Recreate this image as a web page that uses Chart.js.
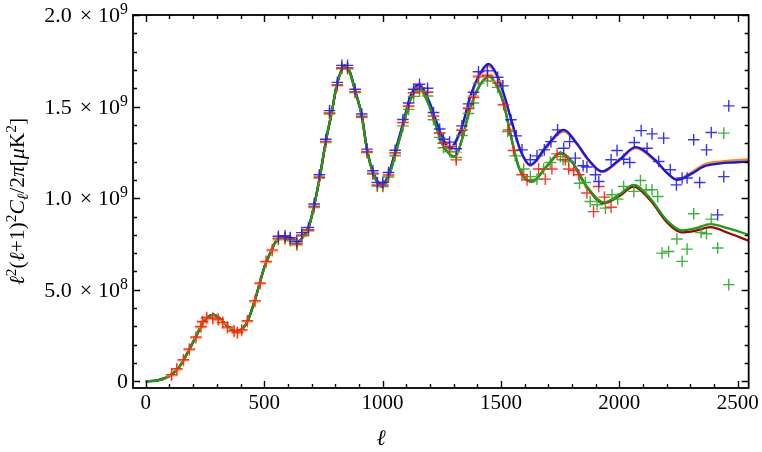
<!DOCTYPE html>
<html><head><meta charset="utf-8">
<script src="https://cdn.jsdelivr.net/npm/chart.js@4/dist/chart.umd.min.js"></script>
<style>html,body{margin:0;padding:0;background:#fff}#wrap{width:762px;height:452px}</style>
</head><body><div id="wrap"><canvas id="c" width="762" height="452"></canvas></div>
<script>
// ---- data (y in units of 10^9 μK^2, x = multipole ℓ) ----
const xTickVals = [0, 500, 1000, 1500, 2000, 2500];
const yTickVals = [0, 0.5, 1.0, 1.5, 2.0];
const yTickMant = ['0', '5.0', '1.0', '1.5', '2.0'];
const yTickExp  = ['', '8', '9', '9', '9'];

const blueCurve = [[0,0],[50,0.006],[100,0.03],[131,0.063],[150,0.095],[184,0.175],[212,0.245],[240,0.318],[262,0.352],[285,0.365],[310,0.347],[345,0.302],[384,0.272],[410,0.29],[430,0.33],[460,0.44],[500,0.62],[532,0.72],[550,0.765],[570,0.785],[610,0.785],[640,0.762],[665,0.79],[690,0.85],[711,0.96],[736,1.124],[761,1.315],[786,1.473],[807,1.62],[840,1.725],[862,1.69],[884,1.59],[912,1.455],[934,1.27],[959,1.146],[997,1.073],[1025,1.13],[1053,1.255],[1088,1.418],[1117,1.555],[1152,1.62],[1194,1.537],[1222,1.437],[1251,1.337],[1283,1.273],[1335,1.391],[1370,1.555],[1412,1.682],[1448,1.733],[1480,1.68],[1511,1.573],[1546,1.418],[1580,1.27],[1624,1.182],[1690,1.28],[1765,1.373],[1820,1.30],[1870,1.21],[1927,1.146],[2000,1.21],[2068,1.279],[2150,1.21],[2200,1.14],[2244,1.10],[2300,1.13],[2360,1.175],[2427,1.19],[2480,1.195],[2550,1.20]];
const orangeCurve = [[0,0],[50,0.006],[100,0.03],[131,0.063],[150,0.095],[184,0.175],[212,0.245],[240,0.318],[262,0.352],[285,0.365],[310,0.347],[345,0.302],[384,0.272],[410,0.29],[430,0.33],[460,0.44],[500,0.62],[532,0.72],[550,0.765],[570,0.785],[610,0.785],[640,0.762],[665,0.79],[690,0.85],[711,0.96],[736,1.124],[761,1.315],[786,1.473],[807,1.62],[840,1.722],[862,1.688],[884,1.588],[912,1.453],[934,1.268],[959,1.144],[997,1.07],[1025,1.127],[1053,1.25],[1088,1.412],[1117,1.548],[1152,1.613],[1194,1.53],[1222,1.43],[1251,1.33],[1283,1.267],[1335,1.383],[1370,1.546],[1412,1.672],[1448,1.722],[1480,1.672],[1511,1.566],[1546,1.41],[1580,1.264],[1624,1.177],[1690,1.272],[1765,1.364],[1820,1.294],[1870,1.204],[1927,1.142],[2000,1.205],[2068,1.273],[2150,1.205],[2200,1.14],[2244,1.104],[2300,1.138],[2360,1.185],[2427,1.2],[2480,1.206],[2550,1.213]];
const greenCurve = [[0,0],[50,0.006],[100,0.03],[131,0.063],[150,0.095],[184,0.175],[212,0.245],[240,0.318],[262,0.352],[285,0.365],[310,0.347],[345,0.302],[384,0.272],[410,0.29],[430,0.33],[460,0.44],[500,0.62],[532,0.72],[550,0.765],[570,0.785],[610,0.785],[640,0.762],[665,0.79],[690,0.85],[711,0.96],[736,1.124],[761,1.315],[786,1.473],[807,1.62],[840,1.72],[862,1.685],[884,1.585],[912,1.45],[934,1.265],[959,1.14],[997,1.062],[1025,1.115],[1053,1.235],[1088,1.40],[1117,1.535],[1155,1.60],[1194,1.515],[1222,1.41],[1251,1.30],[1283,1.24],[1307,1.227],[1335,1.32],[1370,1.49],[1412,1.62],[1450,1.664],[1480,1.62],[1511,1.519],[1540,1.35],[1574,1.173],[1600,1.11],[1631,1.091],[1690,1.17],[1751,1.249],[1800,1.2],[1860,1.07],[1934,0.977],[2000,1.02],[2060,1.073],[2130,1.0],[2200,0.88],[2265,0.824],[2320,0.835],[2385,0.859],[2460,0.835],[2554,0.797]];
const redCurve = [[0,0],[50,0.006],[100,0.03],[131,0.063],[150,0.095],[184,0.175],[212,0.245],[240,0.318],[262,0.352],[285,0.365],[310,0.347],[345,0.302],[384,0.272],[410,0.29],[430,0.33],[460,0.44],[500,0.62],[532,0.72],[550,0.765],[570,0.785],[610,0.785],[640,0.762],[665,0.79],[690,0.85],[711,0.96],[736,1.124],[761,1.315],[786,1.473],[807,1.62],[840,1.72],[862,1.685],[884,1.585],[912,1.45],[934,1.265],[959,1.14],[997,1.062],[1025,1.115],[1053,1.235],[1088,1.40],[1117,1.535],[1155,1.60],[1194,1.515],[1222,1.41],[1251,1.30],[1283,1.24],[1307,1.227],[1335,1.32],[1370,1.49],[1412,1.62],[1450,1.664],[1480,1.62],[1511,1.519],[1540,1.35],[1574,1.173],[1600,1.11],[1631,1.09],[1690,1.168],[1751,1.245],[1800,1.196],[1860,1.066],[1934,0.972],[2000,1.012],[2060,1.064],[2130,0.99],[2200,0.87],[2265,0.814],[2320,0.822],[2385,0.842],[2460,0.81],[2554,0.764]];

const bluePoints = [[560,0.792],[588,0.795],[610,0.785],[638,0.762],[659,0.812],[687,0.840],[711,0.968],[733,1.128],[760,1.322],[776,1.478],[809,1.632],[828,1.725],[852,1.725],[884,1.595],[912,1.46],[934,1.268],[959,1.15],[978,1.086],[1001,1.086],[1025,1.14],[1053,1.262],[1086,1.43],[1110,1.52],[1131,1.595],[1156,1.622],[1190,1.600],[1215,1.468],[1241,1.378],[1257,1.322],[1283,1.306],[1311,1.27],[1335,1.395],[1363,1.515],[1384,1.578],[1405,1.69],[1443,1.695],[1486,1.66],[1508,1.613],[1542,1.428],[1565,1.34],[1589,1.264],[1624,1.21],[1652,1.231],[1683,1.264],[1711,1.309],[1739,1.373],[1765,1.273],[1790,1.309],[1814,1.219],[1847,1.177],[1863,1.17],[1899,1.128],[1913,1.091],[1965,1.21],[1990,1.26],[2018,1.213],[2044,1.195],[2063,1.304],[2092,1.369],[2117,1.273],[2138,1.351],[2166,1.2],[2187,1.328],[2215,1.155],[2241,1.073],[2265,1.11],[2286,1.11],[2314,1.319],[2339,1.086],[2368,1.264],[2388,1.359],[2415,0.909],[2441,1.118],[2462,1.504]];
const redPoints = [[109,0.037],[131,0.069],[159,0.118],[184,0.177],[212,0.242],[233,0.300],[240,0.327],[257,0.349],[283,0.346],[306,0.340],[325,0.322],[345,0.297],[373,0.277],[387,0.268],[405,0.282],[429,0.331],[461,0.440],[483,0.537],[508,0.655],[534,0.718],[560,0.782],[588,0.785],[610,0.775],[638,0.752],[659,0.80],[687,0.828],[711,0.956],[733,1.116],[760,1.31],[776,1.466],[809,1.62],[828,1.712],[852,1.712],[884,1.582],[912,1.447],[934,1.255],[959,1.137],[978,1.072],[1001,1.072],[1025,1.127],[1053,1.248],[1086,1.414],[1110,1.503],[1131,1.576],[1156,1.602],[1190,1.578],[1215,1.448],[1241,1.356],[1257,1.30],[1283,1.28],[1311,1.209],[1335,1.37],[1363,1.49],[1384,1.55],[1405,1.662],[1443,1.668],[1486,1.628],[1511,1.51],[1532,1.373],[1553,1.26],[1589,1.128],[1610,1.10],[1659,1.159],[1687,1.104],[1715,1.159],[1737,1.242],[1772,1.21],[1786,1.159],[1807,1.151],[1828,1.128],[1863,1.028],[1891,0.927],[1913,1.064],[1937,1.006],[1965,0.951]];
const orangePoints = [[109,0.031],[131,0.063],[159,0.112],[184,0.171],[212,0.236],[233,0.294],[240,0.321],[257,0.343],[283,0.340],[306,0.334],[325,0.316],[345,0.291],[373,0.271],[387,0.262],[405,0.276],[429,0.325],[461,0.434],[483,0.531],[508,0.649],[534,0.712],[560,0.772],[588,0.775],[610,0.765],[638,0.742],[659,0.792],[687,0.820],[711,0.948],[733,1.108],[760,1.302],[776,1.458],[809,1.612],[828,1.705],[852,1.705],[884,1.575],[912,1.44],[934,1.248],[959,1.13],[978,1.066],[1001,1.066],[1025,1.12],[1053,1.242],[1086,1.41],[1110,1.50],[1131,1.575],[1156,1.602],[1190,1.58],[1215,1.448],[1241,1.358],[1257,1.302],[1283,1.286],[1311,1.25],[1335,1.375],[1363,1.495],[1384,1.558],[1405,1.67],[1443,1.675],[1486,1.64]];
const greenPoints = [[560,0.778],[588,0.781],[610,0.771],[638,0.748],[659,0.796],[687,0.825],[711,0.952],[733,1.112],[760,1.306],[776,1.462],[809,1.616],[828,1.708],[852,1.708],[884,1.578],[912,1.442],[934,1.25],[959,1.132],[978,1.066],[1001,1.064],[1025,1.115],[1053,1.232],[1086,1.395],[1110,1.485],[1131,1.556],[1156,1.584],[1190,1.558],[1215,1.428],[1241,1.332],[1257,1.275],[1283,1.255],[1311,1.222],[1335,1.342],[1363,1.462],[1384,1.52],[1405,1.628],[1443,1.64],[1486,1.605],[1528,1.364],[1560,1.231],[1596,1.159],[1624,1.118],[1652,1.104],[1680,1.159],[1708,1.195],[1751,1.227],[1762,1.21],[1786,1.2],[1832,1.082],[1856,1.086],[1877,0.982],[1906,0.964],[1941,0.946],[1969,1.019],[1993,0.995],[2018,1.064],[2061,1.037],[2089,1.097],[2113,1.046],[2138,1.046],[2162,1.009],[2180,0.70],[2208,0.709],[2243,0.777],[2265,0.655],[2286,0.722],[2314,0.915],[2345,0.813],[2368,0.806],[2388,0.886],[2415,0.728],[2441,1.355],[2462,0.528]];

// ---- chart ----
const FONT = '"Liberation Serif", "Times New Roman", serif';
const toXY = arr => arr.map(p => ({x: p[0], y: p[1]}));
const mkLine = (arr, color, order) => ({data: toXY(arr), showLine: true, borderColor: color, backgroundColor: color,
  borderWidth: 2.3, pointRadius: 0, pointHoverRadius: 0, cubicInterpolationMode: 'monotone', fill: false, order});
const mkPts = (arr, color, order) => ({data: toXY(arr), showLine: false, pointStyle: 'cross', pointRadius: 5.8,
  pointBorderWidth: 1.4, pointBorderColor: color, pointBackgroundColor: color, borderColor: color, order});

function drawRich(ctx, segs, x, baseY, size, align) {
  const parts = segs.map(s => {
    const sz = (s.sup || s.sub) ? size * 0.72 : size;
    const font = (s.it ? 'italic ' : '') + sz + 'px ' + FONT;
    ctx.font = font;
    const w = ctx.measureText(s.t).width;
    return {s, font, w, pre: s.pre || 0, post: s.post || 0, dy: s.sup ? -size * 0.36 : (s.sub ? size * 0.2 : 0)};
  });
  const total = parts.reduce((a, p) => a + p.w + p.pre + p.post, 0);
  let cx = align === 'right' ? x - total : (align === 'center' ? x - total / 2 : x);
  ctx.textAlign = 'left'; ctx.textBaseline = 'alphabetic';
  for (const p of parts) {
    cx += p.pre;
    ctx.font = p.font;
    ctx.fillText(p.s.t, cx, baseY + p.dy);
    cx += p.w + p.post;
  }
}

const framePlugin = {
  id: 'frame',
  afterDraw(chart) {
    const ctx = chart.ctx, a = chart.chartArea;
    const xs = chart.scales.x, ys = chart.scales.y;
    ctx.save();
    ctx.strokeStyle = '#000'; ctx.fillStyle = '#000';
    ctx.lineWidth = 1.8;
    ctx.strokeRect(a.left, a.top, a.right - a.left, a.bottom - a.top);
    ctx.lineWidth = 1.4;
    ctx.beginPath();
    for (let i = 0; i <= 25; i++) {
      const px = Math.round(xs.getPixelForValue(i * 100)) + 0.5;
      const len = i % 5 === 0 ? 7 : 4;
      ctx.moveTo(px, a.bottom); ctx.lineTo(px, a.bottom - len);
      ctx.moveTo(px, a.top); ctx.lineTo(px, a.top + len);
    }
    for (let i = 0; i <= 20; i++) {
      const py = Math.round(ys.getPixelForValue(i / 10)) + 0.5;
      const len = i % 5 === 0 ? 7 : 4;
      ctx.moveTo(a.left, py); ctx.lineTo(a.left + len, py);
      ctx.moveTo(a.right, py); ctx.lineTo(a.right - len, py);
    }
    ctx.stroke();
    // y tick labels
    yTickVals.forEach((v, i) => {
      const py = ys.getPixelForValue(v);
      const segs = yTickExp[i] ? [{t: yTickMant[i]}, {t: '×', pre: 8, post: 6}, {t: '10'}, {t: yTickExp[i], sup: true}]
                               : [{t: yTickMant[i]}];
      drawRich(ctx, segs, a.left - 5, py + 7, 22, 'right');
    });
    // x title
    drawRich(ctx, [{t: 'ℓ', it: true}], 381, 445, 22, 'center');
    // y title
    ctx.translate(24, (a.top + a.bottom) / 2);
    ctx.rotate(-Math.PI / 2);
    drawRich(ctx, [{t: 'ℓ', it: true}, {t: '2', sup: true}, {t: '('}, {t: 'ℓ', it: true}, {t: '+1)'}, {t: '2', sup: true},
      {t: 'C', it: true}, {t: 'ℓ', it: true, sub: true}, {t: '/2'}, {t: 'π', it: true}, {t: '['}, {t: 'μ', it: true},
      {t: 'K'}, {t: '2', sup: true}, {t: ']'}], 0, 0, 21.5, 'center');
    ctx.restore();
  }
};

new Chart(document.getElementById('c'), {
  type: 'scatter',
  data: {datasets: [
    mkLine(orangeCurve, '#ff8a00', 14),
    mkLine(blueCurve, '#1414ee', 13),
    mkLine(redCurve, '#a80000', 12),
    mkLine(greenCurve, '#1c9c1c', 11),
    mkPts(orangePoints, 'rgba(255,150,40,0.85)', 4),
    mkPts(greenPoints, 'rgba(40,170,40,0.9)', 3),
    mkPts(redPoints, 'rgba(255,30,20,0.9)', 2),
    mkPts(bluePoints, 'rgba(30,30,255,0.9)', 1)
  ]},
  options: {
    responsive: false, animation: false, devicePixelRatio: 1,
    layout: {padding: {left: 0, right: 13, top: 15, bottom: 0}},
    plugins: {legend: {display: false}, tooltip: {enabled: false}},
    scales: {
      x: {type: 'linear', min: -54, max: 2546,
        afterBuildTicks: s => { s.ticks = xTickVals.map(v => ({value: v})); },
        afterFit: s => { s.height = 64; },
        grid: {display: false, drawTicks: false}, border: {display: false},
        ticks: {color: '#000', font: {family: FONT, size: 21}, padding: 3, maxRotation: 0, autoSkip: false, callback: v => String(v)}},
      y: {type: 'linear', min: -0.036, max: 2.0,
        afterBuildTicks: s => { s.ticks = yTickVals.map(v => ({value: v})); },
        afterFit: s => { s.width = 133; },
        grid: {display: false, drawTicks: false}, border: {display: false},
        ticks: {display: false}}
    }
  },
  plugins: [framePlugin]
});
</script>
</body></html>
